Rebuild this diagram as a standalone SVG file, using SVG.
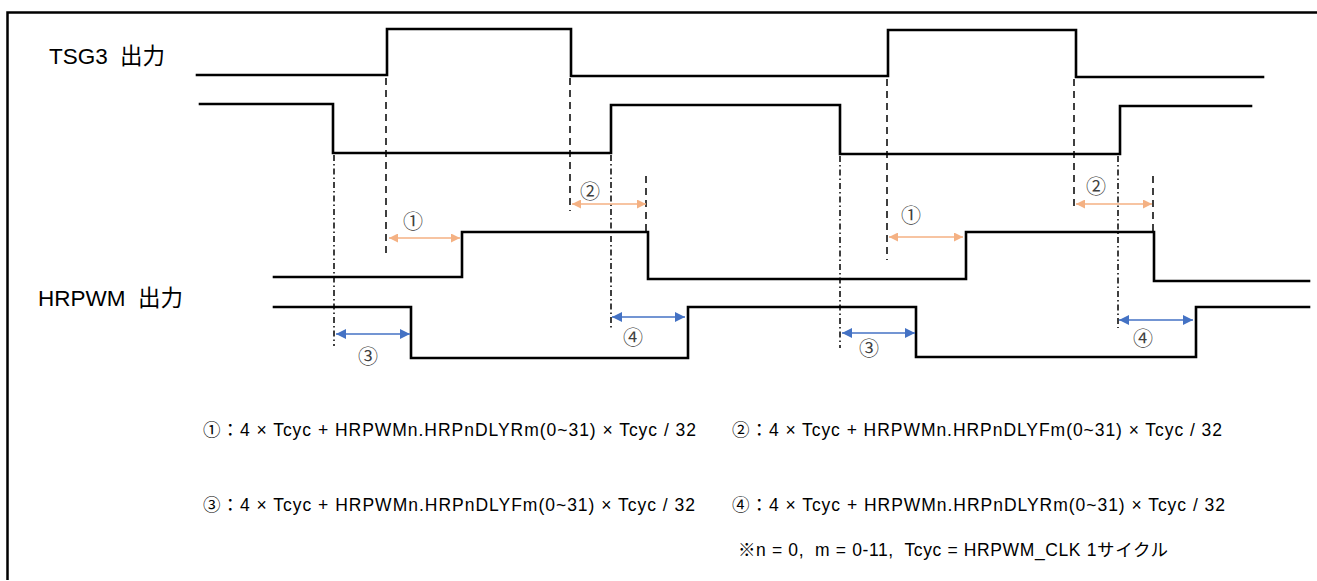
<svg xmlns="http://www.w3.org/2000/svg" width="1317" height="581" viewBox="0 0 1317 581">
<style>
.wave{fill:none;stroke:#000;stroke-width:2.6;stroke-linejoin:miter;stroke-linecap:square}
.dash{stroke:#000;stroke-width:1.5;stroke-dasharray:7 5;fill:none}
.dashdot{stroke:#000;stroke-width:1.5;stroke-dasharray:6 3 1.5 3;fill:none}
.arrO{stroke:#F4B183;stroke-width:1.5;fill:none;marker-start:url(#mO);marker-end:url(#mO)}
.arrB{stroke:#4472C4;stroke-width:1.5;fill:none;marker-start:url(#mB);marker-end:url(#mB)}
.lbl{font-family:"Liberation Sans","Noto Sans CJK JP",sans-serif;font-size:22.5px;fill:#000}
.num{font-family:"Noto Sans CJK JP",sans-serif;font-size:20px;fill:#404040;text-anchor:middle}
.fx{font-family:"Liberation Sans","Noto Sans CJK JP",sans-serif;font-size:17.5px;fill:#000;white-space:pre}
</style>
<defs>
<marker id="mO" viewBox="0 0 10 10" refX="10" refY="5" markerWidth="9" markerHeight="9" markerUnits="userSpaceOnUse" orient="auto-start-reverse">
<path d="M0,0 L10,5 L0,10 Z" fill="#F4B183"/>
</marker>
<marker id="mB" viewBox="0 0 10 10" refX="10" refY="5" markerWidth="10" markerHeight="10" markerUnits="userSpaceOnUse" orient="auto-start-reverse">
<path d="M0,0 L10,5 L0,10 Z" fill="#4472C4"/>
</marker>
</defs>
<rect width="1317" height="581" fill="#fff"/>
<path id="frame" d="M7.5,580 V12.5 H1317" fill="none" stroke="#000" stroke-width="2.5"/>

<g id="label-tsg3"><text class="lbl" x="49" y="64"><tspan>TSG3 </tspan><tspan x="120">出力</tspan></text></g>
<g id="label-hrpwm"><text class="lbl" x="38" y="306"><tspan>HRPWM </tspan><tspan x="138">出力</tspan></text></g>

<g id="waveforms">
<path id="tsg3-a" class="wave" d="M197,75 H387 V29 H571 V76 H888 V30 H1076 V77 H1263"/>
<path id="tsg3-b" class="wave" d="M200,104 H333 V153 H611 V105 H840 V154 H1120 V106 H1251"/>
<path id="hrpwm-a" class="wave" d="M274,277 H462 V232 H648 V279 H966 V232 H1154 V281 H1309"/>
<path id="hrpwm-b" class="wave" d="M274,307 H411 V358 H688 V307 H916 V357 H1196 V307 H1309"/>
</g>

<g id="guides">
<line class="dash" x1="386" y1="78" x2="386" y2="257"/>
<line class="dash" x1="570" y1="78" x2="570" y2="211"/>
<line class="dash" x1="887" y1="79" x2="887" y2="260"/>
<line class="dash" x1="1074" y1="79" x2="1074" y2="210"/>
<line class="dash" x1="646" y1="176" x2="646" y2="231"/>
<line class="dash" x1="1153" y1="176" x2="1153" y2="231"/>
<line class="dashdot" x1="334" y1="155" x2="334" y2="346"/>
<line class="dashdot" x1="611" y1="155" x2="611" y2="328"/>
<line class="dashdot" x1="840" y1="156" x2="840" y2="348"/>
<line class="dashdot" x1="1118" y1="156" x2="1118" y2="328"/>
</g>

<g id="connectors">
<line class="arrO" x1="389" y1="238" x2="460" y2="238"/>
<line class="arrO" x1="889" y1="237" x2="963" y2="237"/>
<line class="arrO" x1="572" y1="204" x2="646" y2="204"/>
<line class="arrO" x1="1076" y1="204" x2="1152" y2="204"/>
<line class="arrB" x1="336" y1="334" x2="410" y2="334"/>
<line class="arrB" x1="842" y1="333" x2="915" y2="333"/>
<line class="arrB" x1="612" y1="317" x2="685" y2="317"/>
<line class="arrB" x1="1119" y1="320" x2="1193" y2="320"/>
</g>

<g id="markers-labels">
<text class="num" x="413" y="229">①</text>
<text class="num" x="911" y="223">①</text>
<text class="num" x="590" y="199">②</text>
<text class="num" x="1096" y="194">②</text>
<text class="num" x="368" y="364">③</text>
<text class="num" x="869" y="356">③</text>
<text class="num" x="633" y="345">④</text>
<text class="num" x="1143" y="346">④</text>
</g>

<g id="formulas">
<text class="fx" x="203" y="436" textLength="493" lengthAdjust="spacing">①：4 × Tcyc + HRPWMn.HRPnDLYRm(0~31) × Tcyc / 32</text>
<text class="fx" x="732" y="436" textLength="490" lengthAdjust="spacing">②：4 × Tcyc + HRPWMn.HRPnDLYFm(0~31) × Tcyc / 32</text>
<text class="fx" x="203" y="511" textLength="492" lengthAdjust="spacing">③：4 × Tcyc + HRPWMn.HRPnDLYFm(0~31) × Tcyc / 32</text>
<text class="fx" x="732" y="511" textLength="493" lengthAdjust="spacing">④：4 × Tcyc + HRPWMn.HRPnDLYRm(0~31) × Tcyc / 32</text>
<text class="fx" x="738" y="556" textLength="430" lengthAdjust="spacing">※n = 0,  m = 0-11,  Tcyc = HRPWM_CLK 1サイクル</text>
</g>
</svg>
